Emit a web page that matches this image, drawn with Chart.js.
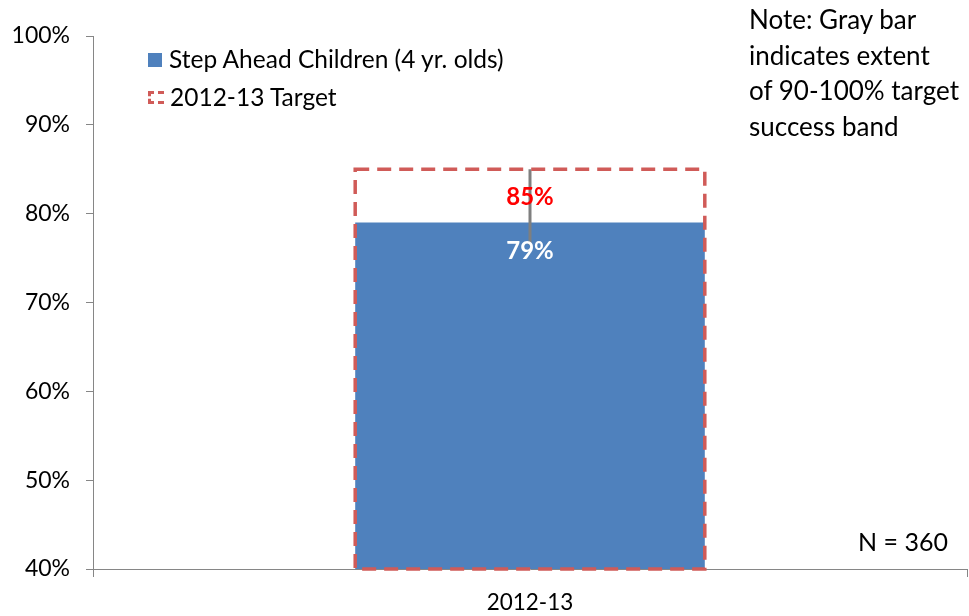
<!DOCTYPE html>
<html>
<head>
<meta charset="utf-8">
<script src="https://cdn.jsdelivr.net/npm/chart.js@4/dist/chart.umd.min.js"></script>
<style>
    body { margin: 0; background: #fff; font-family: Lato, "Open Sans", sans-serif; }
    #wrap { position: relative; width: 969px; height: 616px; }
    #note { position: absolute; left: 749px; top: 2px; font-size: 26px; line-height: 35.5px; color: #000; }
    #legend { position: absolute; left: 148px; top: 42px; font-size: 24.5px; color: #000; }
    #legend div { height: 38px; line-height: 34px; white-space: nowrap; }
    .sw { display: inline-block; vertical-align: middle; box-sizing: border-box; }
    .sw-bar { width: 14px; height: 14px; background: #4F81BD; margin-right: 7px; position: relative; top: -2px; }
    .sw-target { width: 16px; height: 13px; border: 3px dashed #D05B58; border-right: none; margin-right: 6px; position: relative; top: -2px; }
    #n { position: absolute; right: 21px; top: 526px; font-size: 25px; color: #000; }
</style>
</head>
<body>
<div id="wrap">
    <canvas id="chart" width="969" height="616"></canvas>
    <div id="legend">
        <div><span class="sw sw-bar"></span>Step Ahead Children (4 yr. olds)</div>
        <div><span class="sw sw-target"></span>2012-13 Target</div>
    </div>
    <div id="note">Note: Gray bar<br>indicates extent<br>of 90-100% target<br>success band</div>
    <div id="n">N = 360</div>
</div>
<script>
const categories = ['2012-13'];
const childValues = [79];
const targetValues = [85];
const bandLow = [76.5];   // 90% of target
const bandHigh = [85];    // 100% of target
const yMin = 40, yMax = 100, yStep = 10;

const FONT = 'Lato, "Open Sans", sans-serif';

// dashed outline for the target bars, gray band line, value labels
const overlay = {
    id: 'overlay',
    afterDatasetsDraw(chart) {
        let ctx = chart.ctx;
        let yScale = chart.scales.y;
        let bottom = yScale.getPixelForValue(yMin);
        let child = chart.getDatasetMeta(0).data;
        let target = chart.getDatasetMeta(1).data;
        ctx.save();
        // gray band
        target.forEach((el, i) => {
            ctx.strokeStyle = '#7F7F7F';
            ctx.lineWidth = 3;
            ctx.beginPath();
            ctx.moveTo(el.x, yScale.getPixelForValue(bandHigh[i]));
            ctx.lineTo(el.x, yScale.getPixelForValue(bandLow[i]));
            ctx.stroke();
        });
        // dashed target box
        target.forEach(el => {
            ctx.strokeStyle = '#D05B58';
            ctx.lineWidth = 3.5;
            ctx.setLineDash([14, 8]);
            ctx.strokeRect(el.x - el.width / 2, el.y, el.width, bottom - el.y);
        });
        ctx.setLineDash([]);
        // labels
        ctx.font = 'bold 24px ' + FONT;
        ctx.textAlign = 'center';
        ctx.textBaseline = 'middle';
        target.forEach((el, i) => {
            ctx.fillStyle = '#FF0000';
            ctx.fillText(targetValues[i] + '%', el.x, el.y + 28);
        });
        child.forEach((el, i) => {
            ctx.fillStyle = '#FFFFFF';
            ctx.fillText(childValues[i] + '%', el.x, el.y + 29);
        });
        ctx.restore();
    }
};

new Chart(document.getElementById('chart').getContext('2d'), {
    type: 'bar',
    data: {
        labels: categories,
        datasets: [{
            label: 'Step Ahead Children (4 yr. olds)',
            data: childValues,
            backgroundColor: '#4F81BD',
            grouped: false,
            barPercentage: 0.5,
            categoryPercentage: 0.8
        }, {
            label: '2012-13 Target',
            data: targetValues,
            backgroundColor: 'rgba(0,0,0,0)',
            borderWidth: 0,
            grouped: false,
            barPercentage: 0.5,
            categoryPercentage: 0.8
        }]
    },
    options: {
        responsive: false,
        animation: false,
        devicePixelRatio: 1,
        layout: { padding: { top: 36, right: 2, left: 0, bottom: 0 } },
        plugins: { legend: { display: false }, tooltip: { enabled: false } },
        scales: {
            y: {
                min: yMin, max: yMax,
                ticks: { stepSize: yStep, callback: v => v + '%', color: '#000', padding: 16, font: { family: FONT, size: 23 } },
                grid: { drawOnChartArea: false, tickLength: 7, color: '#868686' },
                border: { color: '#868686' },
                afterFit: s => { s.width = 93; }
            },
            x: {
                ticks: { color: '#000', padding: 12, font: { family: FONT, size: 22.5 } },
                grid: { drawOnChartArea: false, tickLength: 8, color: '#868686', offset: true },
                border: { color: '#868686' },
                afterFit: s => { s.height = 47; }
            }
        }
    },
    plugins: [overlay]
});
</script>
</body>
</html>
